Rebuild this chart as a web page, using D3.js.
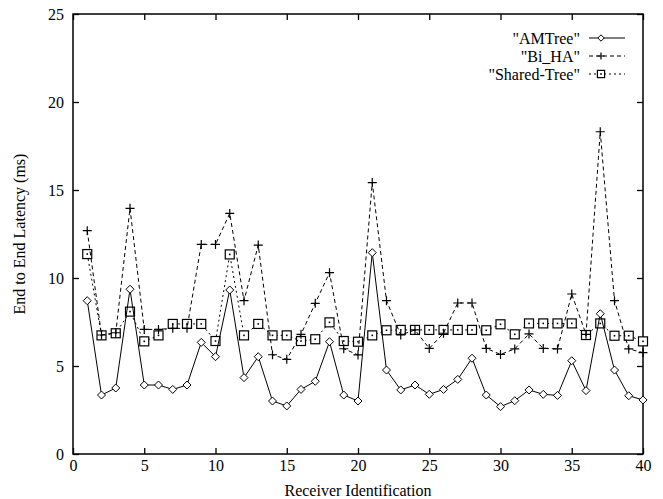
<!DOCTYPE html>
<html>
<head>
<meta charset="utf-8">
<script src="https://cdn.jsdelivr.net/npm/d3@7"></script>
<style>
  body { margin: 0; background: #fff; }
</style>
</head>
<body>
<svg id="chart"></svg>
<script>
// receiver ids 1..40
const receivers = d3.range(1, 41);

const amTree = [8.71, 3.35, 3.75, 9.36, 3.92, 3.92, 3.67, 3.92, 6.34, 5.53,
  9.32, 4.34, 5.53, 3.01, 2.73, 3.67, 4.13, 6.38, 3.35, 3.01,
  11.44, 4.77, 3.64, 3.92, 3.39, 3.67, 4.24, 5.44, 3.35, 2.69,
  3.03, 3.64, 3.39, 3.33, 5.30, 3.60, 7.97, 4.77, 3.31, 3.07];

const biHA = [12.69, 6.76, 6.89, 13.96, 7.08, 7.08, 7.14, 7.14, 11.91, 11.91,
  13.67, 8.71, 11.87, 5.64, 5.38, 6.80, 8.56, 10.30, 5.98, 5.63,
  15.42, 8.71, 6.76, 7.05, 6.00, 6.86, 8.58, 8.58, 6.00, 5.66,
  5.97, 6.82, 6.00, 5.97, 9.09, 6.80, 18.31, 8.71, 5.97, 5.76];

const sharedTree = [11.36, 6.74, 6.86, 8.09, 6.40, 6.74, 7.39, 7.39, 7.39, 6.42,
  11.34, 6.74, 7.39, 6.74, 6.74, 6.42, 6.52, 7.48, 6.42, 6.38,
  6.74, 7.03, 7.05, 7.05, 7.05, 7.05, 7.05, 7.05, 7.03, 7.37,
  6.80, 7.42, 7.42, 7.42, 7.42, 6.76, 7.42, 6.72, 6.72, 6.40];

const seriesNames = ['"AMTree"', '"Bi_HA"', '"Shared-Tree"'];
const xTicks = [0, 5, 10, 15, 20, 25, 30, 35, 40];
const yTicks = [0, 5, 10, 15, 20, 25];

const FONT = "'Liberation Serif', 'DejaVu Serif', serif";

const W = 663, H = 499;
const margin = { top: 14, right: 20, bottom: 45, left: 73 };
const width = W - margin.left - margin.right,
      height = H - margin.top - margin.bottom;

const svg = d3.select("#chart").attr("width", W).attr("height", H);
const g = svg.append("g").attr("transform", `translate(${margin.left},${margin.top})`);

const x = d3.scaleLinear().domain([0, 40]).range([0, width]);
const y = d3.scaleLinear().domain([0, 25]).range([height, 0]);

// inward ticks on all four sides
const tickLen = 6;
g.append("g")
  .attr("transform", `translate(0,${height})`)
  .call(d3.axisBottom(x).tickValues(xTicks).tickSize(-tickLen).tickPadding(6))
  .call(a => a.select(".domain").remove());
g.append("g")
  .call(d3.axisTop(x).tickValues(xTicks).tickSize(-tickLen).tickFormat(""))
  .call(a => a.select(".domain").remove());
g.append("g")
  .call(d3.axisLeft(y).tickValues(yTicks).tickSize(-tickLen).tickPadding(9))
  .call(a => a.select(".domain").remove());
g.append("g")
  .attr("transform", `translate(${width},0)`)
  .call(d3.axisRight(y).tickValues(yTicks).tickSize(-tickLen).tickFormat(""))
  .call(a => a.select(".domain").remove());

g.selectAll(".tick line").attr("stroke", "#000").attr("stroke-width", 1.3);
g.selectAll(".tick text")
  .attr("font-family", null)
  .style("font-family", FONT)
  .style("font-size", "16px")
  .attr("fill", "#000");

g.append("rect")
  .attr("width", width).attr("height", height)
  .attr("fill", "none").attr("stroke", "#000").attr("stroke-width", 1.5);

// axis titles
svg.append("text")
  .attr("x", margin.left + width / 2)
  .attr("y", H - 3)
  .attr("text-anchor", "middle")
  .style("font-family", FONT)
  .style("font-size", "16px")
  .text("Receiver Identification");

svg.append("text")
  .attr("transform", `translate(25,${margin.top + height / 2}) rotate(-90)`)
  .attr("text-anchor", "middle")
  .style("font-family", FONT)
  .style("font-size", "16px")
  .text("End to End Latency (ms)");

// marker drawers
function diamond(sel, s) {
  sel.append("path")
    .attr("d", `M0,${-s}L${s},0L0,${s}L${-s},0Z`)
    .attr("fill", "#fff").attr("stroke", "#000").attr("stroke-width", 1);
}
function plus(sel, s) {
  sel.append("path")
    .attr("d", `M${-s},0H${s}M0,${-s}V${s}`)
    .attr("stroke", "#000").attr("stroke-width", 1.2);
}
function square(sel, s) {
  sel.append("rect")
    .attr("x", -s).attr("y", -s).attr("width", 2 * s).attr("height", 2 * s)
    .attr("fill", "#fff").attr("stroke", "#000").attr("stroke-width", 1.2);
  sel.append("rect")
    .attr("x", -0.8).attr("y", -0.8).attr("width", 1.6).attr("height", 1.6)
    .attr("fill", "#000");
}

const series = [
  { name: seriesNames[0], values: amTree, dash: null, marker: diamond, size: 4 },
  { name: seriesNames[1], values: biHA, dash: "4,3", marker: plus, size: 4.5 },
  { name: seriesNames[2], values: sharedTree, dash: "2,3", marker: square, size: 4.5 }
];

const line = d3.line()
  .x(d => x(d[0]))
  .y(d => y(d[1]));

// draw bottom series first so AMTree sits on top
series.slice().reverse().forEach(s => {
  const pts = receivers.map((r, i) => [r, s.values[i]]);
  g.append("path")
    .datum(pts)
    .attr("d", line)
    .attr("fill", "none")
    .attr("stroke", "#000")
    .attr("stroke-width", 1)
    .attr("stroke-dasharray", s.dash);
  g.append("g")
    .selectAll("g")
    .data(pts)
    .join("g")
    .attr("transform", d => `translate(${x(d[0])},${y(d[1])})`)
    .each(function () { s.marker(d3.select(this), s.size); });
});

// legend
const legend = svg.append("g").attr("transform", "translate(580,38)");
series.forEach((s, i) => {
  const row = legend.append("g").attr("transform", `translate(0,${i * 18})`);
  row.append("text")
    .attr("x", 0).attr("y", 0)
    .attr("dy", "0.35em")
    .attr("text-anchor", "end")
    .style("font-family", FONT)
    .style("font-size", "16px")
    .text(s.name);
  row.append("line")
    .attr("x1", 9).attr("x2", 45).attr("y1", 0).attr("y2", 0)
    .attr("stroke", "#000").attr("stroke-width", 1)
    .attr("stroke-dasharray", s.dash);
  row.append("g").attr("transform", "translate(21,0)").call(sel => s.marker(sel, s.size * 0.8));
});
</script>
</body>
</html>
